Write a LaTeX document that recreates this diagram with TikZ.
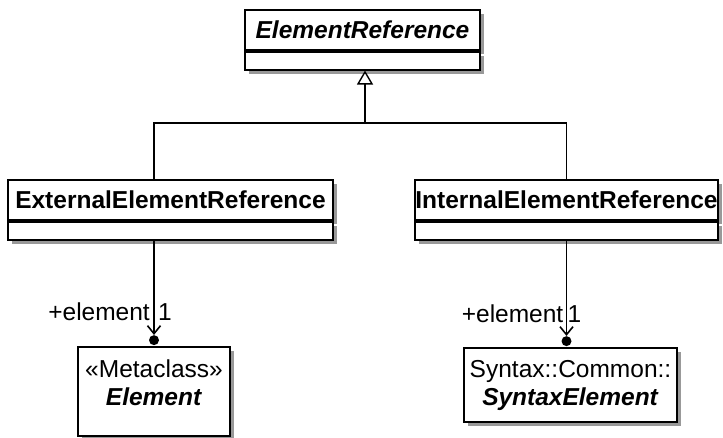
\documentclass[tikz,border=0pt]{standalone}
\usepackage{fontspec}
\setmainfont{Liberation Sans}
\usetikzlibrary{shadows,arrows.meta}

\tikzset{
  umltext/.style={font=\fontsize{24.5}{28}\selectfont},
  classbox/.style={draw, line width=1.7pt, fill=white, inner sep=0pt, umltext,
    drop shadow={shadow xshift=4pt, shadow yshift=-4pt, fill=black!40, opacity=1}},
  classname/.style={classbox, minimum height=40pt},
  classattr/.style={classbox, minimum height=18pt},
  conn/.style={line width=1.6pt},
  dot/.style={circle, fill, inner sep=0pt, minimum size=10pt},
  role/.style={umltext, inner sep=0pt},
}

\begin{document}
\begin{tikzpicture}[x=1pt, y=-1pt]
\useasboundingbox (0,0) rectangle (723,438);
% abstract parent
\node[classname, minimum width=235pt] (elemref) at (362.5,30) {\textbf{\textit{ElementReference}}};
\node[classattr, minimum width=235pt, anchor=north] (elemrefattr) at (elemref.south) {};
% subclasses
\node[classname, minimum width=325pt] (ext) at (170.5,200) {\textbf{ExternalElementReference}};
\node[classattr, minimum width=325pt, anchor=north] (extattr) at (ext.south) {};
\node[classname, minimum width=303pt] (int) at (566.5,200) {\textbf{InternalElementReference}};
\node[classattr, minimum width=303pt, anchor=north] (intattr) at (int.south) {};
% referenced classes
\node[classbox, minimum width=152pt, minimum height=89pt, align=center] (elem) at (154,391.5) {«Metaclass»\\\textbf{\textit{Element}}\rule[-17pt]{0pt}{17pt}};
\node[classbox, minimum width=213pt, minimum height=74pt, align=center] (syntaxelem) at (570.5,385) {Syntax::Common::\\\textbf{\textit{SyntaxElement}}};

% generalization
\coordinate (bar) at (365,123);
\draw[conn] (ext.north -| elem.north) |- (bar) -| (int.north);
\draw[conn, -{Triangle[open, length=14pt, width=16pt, line width=1.4pt]}] (bar) -- (elemrefattr.south -| bar);

% associations
\node[dot] (dotA) at ([yshift=6pt]elem.north) {};
\node[dot] (dotB) at ([yshift=6pt]syntaxelem.north -| int.south) {};
\draw[conn, -{Straight Barb[length=8pt, width=13pt]}] (extattr.south -| dotA) -- (dotA.north);
\draw[conn, -{Straight Barb[length=8pt, width=13pt]}] (intattr.south -| dotB) -- (dotB.north);
\node[role, anchor=base east] (roleA) at ([xshift=-4pt, yshift=20pt]dotA.center) {+element};
\node[role, anchor=base west] (multA) at ([xshift=4pt, yshift=20pt]dotA.center) {1};
\node[role, anchor=base east] (roleB) at ([xshift=-3pt, yshift=19pt]dotB.center) {+element};
\node[role, anchor=base west] (multB) at ([xshift=1pt, yshift=19pt]dotB.center) {1};
\end{tikzpicture}
\end{document}
